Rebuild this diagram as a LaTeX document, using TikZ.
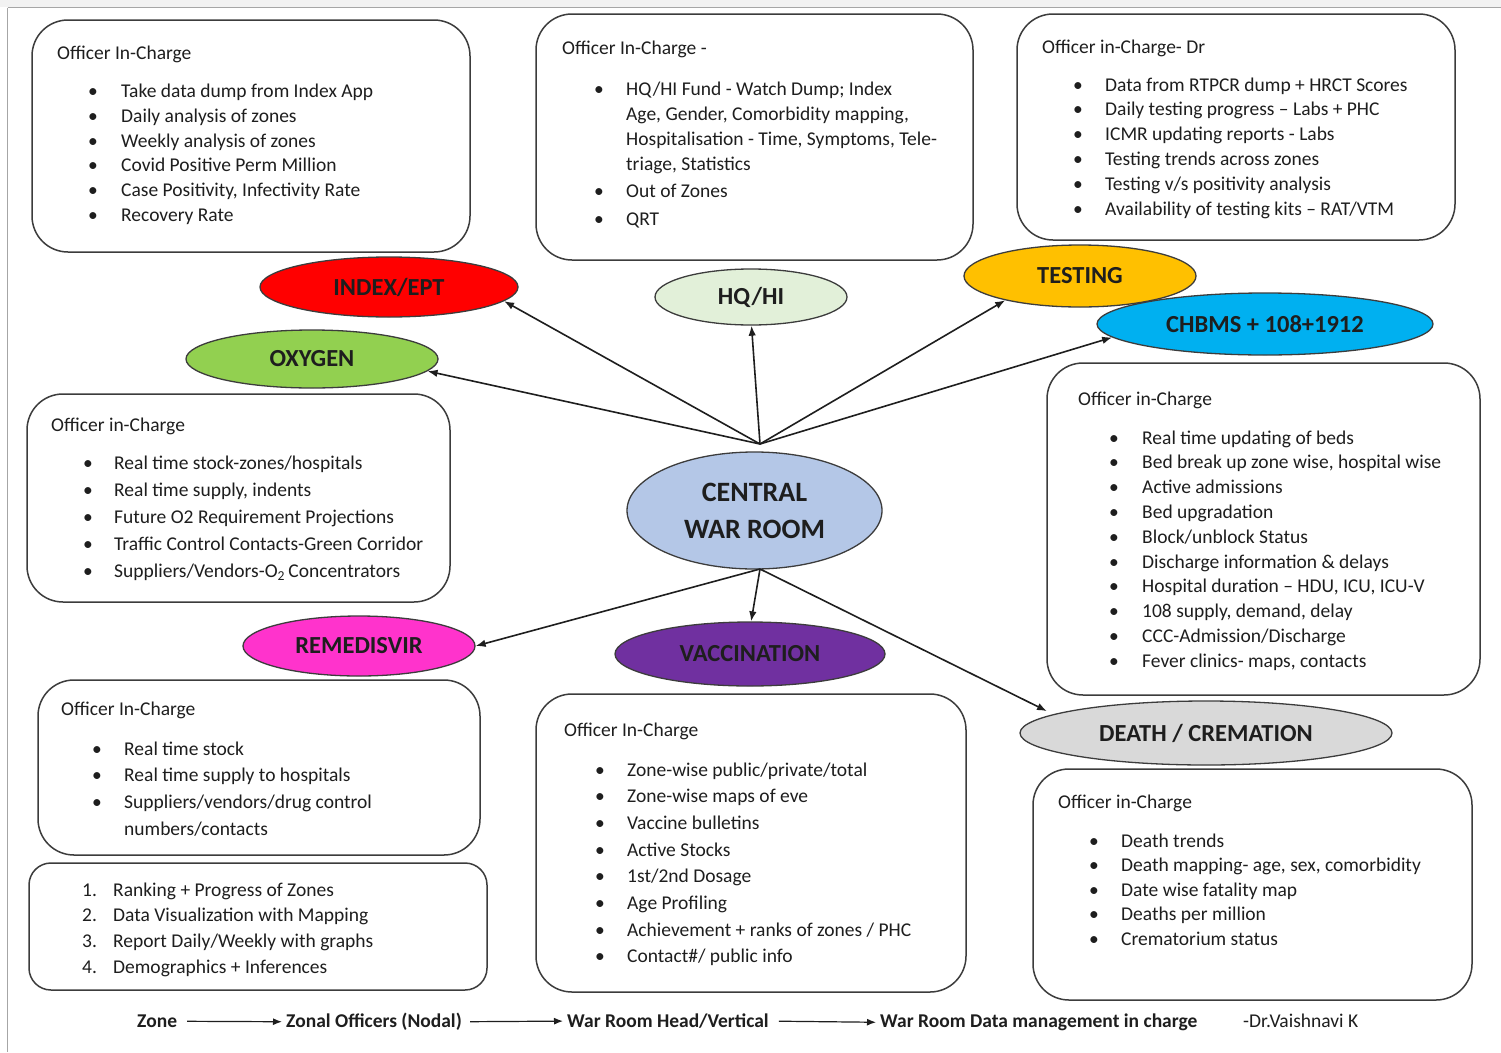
\documentclass[tikz,border=0pt]{standalone}
\usepackage{fontspec}
\setmainfont{Carlito}
\usetikzlibrary{shapes.geometric,arrows.meta}
\definecolor{bordc}{HTML}{3C3C3C}
\definecolor{txtc}{HTML}{1E1E1E}
\definecolor{cred}{HTML}{FF0000}
\definecolor{chq}{HTML}{E2F0D9}
\definecolor{ctst}{HTML}{FFC000}
\definecolor{cchb}{HTML}{00B0F0}
\definecolor{coxy}{HTML}{92D050}
\definecolor{ccwr}{HTML}{B4C7E7}
\definecolor{crem}{HTML}{FF33CC}
\definecolor{cvac}{HTML}{7030A0}
\definecolor{cdth}{HTML}{D9D9D9}
\newcommand\blist[6]{%
  \foreach \t [count=\i] in {#6}{%
    \node[bul] (#1b\i) at (#2,{#4+(\i-1)*#5}) {\textbullet};
    \node[txt] (#1t\i) at (#3,{#4+(\i-1)*#5}) {\t};
  }}
\begin{document}
\begin{tikzpicture}[x=1pt,y=-1pt,
  box/.style={draw=bordc,line width=1.5pt,rounded corners=36pt,inner sep=0pt},
  txt/.style={anchor=base west,inner sep=0pt,yshift=-1.5pt,text=txtc,font=\fontsize{19.5}{23}\selectfont},
  bul/.style={anchor=base,inner sep=0pt,yshift=-1.5pt,text=txtc,font=\fontsize{19.5}{23}\selectfont},
  ell/.style={ellipse,draw=bordc,line width=1.3pt,inner sep=0pt,text=txtc,
    font=\bfseries\fontsize{24.5}{28}\selectfont},
  arr/.style={line width=1.6pt,draw=txtc,-{Latex[length=10pt,width=7.5pt]}},
  flow/.style={anchor=base west,inner sep=0pt,yshift=-1.5pt,text=txtc,font=\bfseries\fontsize{19.5}{23}\selectfont},
  farr/.style={line width=1.2pt,draw=txtc,-{Latex[length=9pt,width=7pt]}}]
\useasboundingbox (0,0) rectangle (1501,1052);
\fill[white] (0,0) rectangle (1501,1052);
\fill[black!5] (0,0) rectangle (1501,7);
\draw[black!35,line width=1pt] (7.5,7.5) -- (1501,7.5);
\draw[black!35,line width=1pt] (7.5,7.5) -- (7.5,1052);

% boxes
\node[box,minimum width=438pt,minimum height=232pt] (bx1) at (251,136) {};
\node[box,minimum width=437pt,minimum height=246pt] (bx2) at (754.5,137) {};
\node[box,minimum width=438pt,minimum height=226pt] (bx3) at (1236,127) {};
\node[box,minimum width=423pt,minimum height=208pt] (bx4) at (238.5,498) {};
\node[box,minimum width=433pt,minimum height=332pt] (bx5) at (1263.5,529) {};
\node[box,minimum width=442pt,minimum height=175pt] (bx6) at (259,767.5) {};
\node[box,rounded corners=22pt,minimum width=458pt,minimum height=127pt] (bx7) at (258,926.5) {};
\node[box,minimum width=430pt,minimum height=298pt] (bx8) at (751,843) {};
\node[box,minimum width=439pt,minimum height=231pt] (bx9) at (1252.5,884.5) {};

% box 1
\node[txt] (h1) at (57,57.5) {Officer In-Charge};
\blist{a}{93}{121}{96}{24.8}{Take data dump from Index App,Daily analysis of zones,Weekly analysis of zones,Covid Positive Perm Million,{Case Positivity, Infectivity Rate},Recovery Rate}

% box 2
\node[txt] (h2) at (562,52.5) {Officer In-Charge -};
\node[bul] (bb1) at (599,93.5) {\textbullet};
\node[txt] (bt1) at (626,93.5) {HQ/HI Fund - Watch Dump; Index};
\node[txt] (bt2) at (626,118.5) {Age, Gender, Comorbidity mapping,};
\node[txt] (bt3) at (626,143.5) {Hospitalisation - Time, Symptoms, Tele-};
\node[txt] (bt4) at (626,168.5) {triage, Statistics};
\node[bul] (bb5) at (599,195.5) {\textbullet};
\node[txt] (bt5) at (626,195.5) {Out of Zones};
\node[bul] (bb6) at (599,223.5) {\textbullet};
\node[txt] (bt6) at (626,223.5) {QRT};

% box 3
\node[txt] (h3) at (1042,51.5) {Officer in-Charge- Dr};
\blist{c}{1078}{1105}{89.5}{24.8}{Data from RTPCR dump + HRCT Scores,Daily testing progress -- Labs + PHC,ICMR updating reports - Labs,Testing trends across zones,Testing v/s positivity analysis,Availability of testing kits -- RAT/VTM}

% box 4
\node[txt] (h4) at (51,429.5) {Officer in-Charge};
\blist{d}{88}{114}{467.5}{27}{Real time stock-zones/hospitals,{Real time supply, indents},Future O2 Requirement Projections,Traffic Control Contacts-Green Corridor,Suppliers/Vendors-O\textsubscript{2}\,Concentrators}

% box 5
\node[txt] (h5) at (1078,403.5) {Officer in-Charge};
\blist{e}{1114}{1142}{442.5}{24.8}{Real time updating of beds,{Bed break up zone wise, hospital wise},Active admissions,Bed upgradation,Block/unblock Status,Discharge information \& delays,{Hospital duration -- HDU, ICU, ICU-V},{108 supply, demand, delay},CCC-Admission/Discharge,{Fever clinics- maps, contacts}}

% box 6
\node[txt] (h6) at (61,713.5) {Officer In-Charge};
\blist{f}{97}{124}{753.5}{26.7}{Real time stock,Real time supply to hospitals,Suppliers/vendors/drug control}
\node[txt] (ft4) at (124,833.5) {numbers/contacts};

% box 7
\foreach \t [count=\i] in {Ranking + Progress of Zones,Data Visualization with Mapping,Report Daily/Weekly with graphs,Demographics + Inferences}{
  \node[txt] (gn\i) at (82,{894.5+(\i-1)*25.7}) {\i.};
  \node[txt] (gt\i) at (113,{894.5+(\i-1)*25.7}) {\t};
}

% box 8
\node[txt] (h8) at (564,734.5) {Officer In-Charge};
\blist{h}{600}{627}{774.5}{26.7}{Zone-wise public/private/total,Zone-wise maps of eve,Vaccine bulletins,Active Stocks,1st/2nd Dosage,Age Profiling,Achievement + ranks of zones / PHC,Contact\#/ public info}

% box 9
\node[txt] (h9) at (1058,806.5) {Officer in-Charge};
\blist{k}{1094}{1121}{845.5}{24.5}{Death trends,{Death mapping- age, sex, comorbidity},Date wise fatality map,Deaths per million,Crematorium status}

% ellipses
\node[ell,fill=cred,minimum width=258pt,minimum height=60pt] (idx) at (389,287) {INDEX/EPT};
\node[ell,fill=chq,minimum width=192pt,minimum height=56pt] (hq) at (751,297) {HQ/HI};
\node[ell,fill=ctst,minimum width=232pt,minimum height=62pt] (tst) at (1080,276) {TESTING};
\node[ell,fill=cchb,minimum width=336pt,minimum height=62pt] (chb) at (1265,324) {CHBMS + 108+1912};
\node[ell,fill=coxy,minimum width=252pt,minimum height=58pt] (oxy) at (312,359) {OXYGEN};
\node[ell,fill=ccwr,minimum width=255pt,minimum height=117pt,align=center,
  font=\bfseries\fontsize{28}{37}\selectfont] (cwr) at (754.5,510.5) {CENTRAL\\WAR ROOM};
\node[ell,fill=crem,minimum width=232pt,minimum height=60pt] (rem) at (359,646) {REMEDISVIR};
\node[ell,fill=cvac,minimum width=270pt,minimum height=64pt] (vac) at (750,654) {VACCINATION};
\node[ell,fill=cdth,minimum width=372pt,minimum height=64pt] (dth) at (1206,733) {DEATH / CREMATION};

% connectors
\coordinate (tj) at (760,444);
\coordinate (bj) at (760,569);
\draw[arr] (tj) -- (idx.-7);
\draw[arr] (tj) -- (oxy.-6);
\draw[arr] (tj) -- (hq.-89);
\draw[arr] (tj) -- (tst.-162);
\draw[arr] (tj) -- (chb.-175);
\draw[arr] (bj) -- (rem.0);
\draw[arr] (bj) -- (vac.88);
\draw[arr,shorten >=7pt] (bj) -- (dth.173);

% bottom flow
\node[flow] (z1) at (137,1026) {Zone};
\node[flow] (z2) at (286,1026) {Zonal Officers (Nodal)};
\node[flow] (z3) at (567,1026) {War Room Head/Vertical};
\node[flow] (z4) at (880,1026) {War Room Data management in charge};
\node[txt] (sig) at (1243,1026) {-Dr.Vaishnavi K};
\draw[farr,shorten <=10pt,shorten >=4pt] (z1.east) -- (z2.west);
\draw[farr,shorten <=8pt,shorten >=4pt] (z2.east) -- (z3.west);
\draw[farr,shorten <=10pt,shorten >=4pt] (z3.east) -- (z4.west);
\end{tikzpicture}
\end{document}
